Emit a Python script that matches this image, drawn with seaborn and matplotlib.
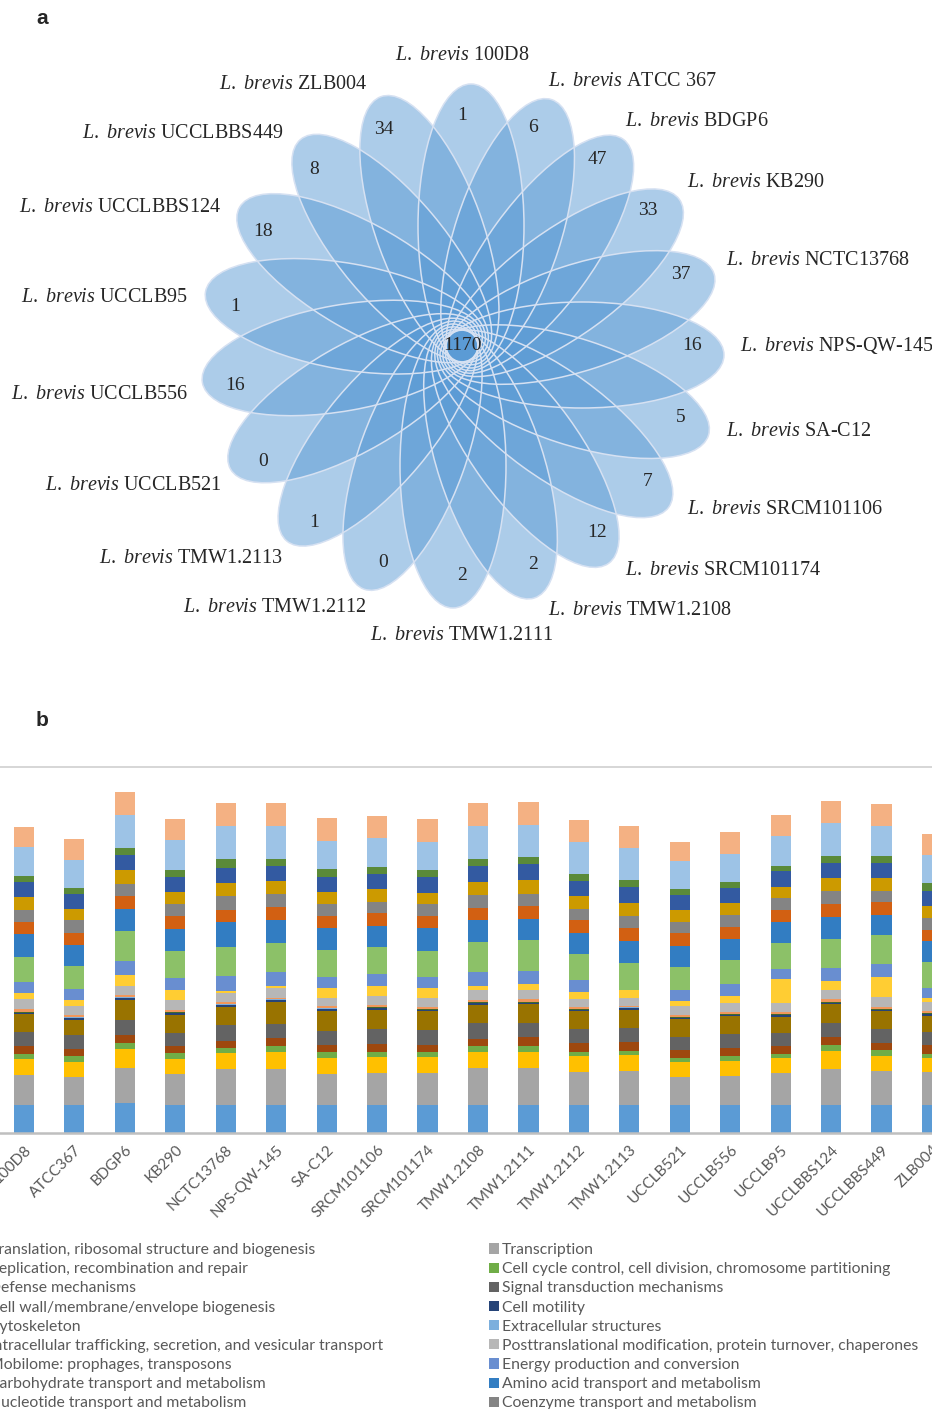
import numpy as np
import pandas as pd
import matplotlib
matplotlib.use("Agg")
import matplotlib.pyplot as plt
import seaborn as sns
from matplotlib.patches import Ellipse, Patch

# ---------------- panel a: flower diagram ----------------
venn_strains = ["100D8", "ATCC 367", "BDGP6", "KB290", "NCTC13768", "NPS-QW-145",
                "SA-C12", "SRCM101106", "SRCM101174", "TMW1.2108", "TMW1.2111",
                "TMW1.2112", "TMW1.2113", "UCCLB521", "UCCLB556", "UCCLB95",
                "UCCLBBS124", "UCCLBBS449", "ZLB004"]
unique_genes = [1, 6, 47, 33, 37, 16, 5, 7, 12, 2, 2, 0, 1, 0, 16, 1, 18, 8, 34]
core_genes = 1170

# ---------------- panel b: COG stacked bars ----------------
bar_strains = ["100D8", "ATCC367", "BDGP6", "KB290", "NCTC13768", "NPS-QW-145",
               "SA-C12", "SRCM101106", "SRCM101174", "TMW1.2108", "TMW1.2111",
               "TMW1.2112", "TMW1.2113", "UCCLB521", "UCCLB556", "UCCLB95",
               "UCCLBBS124", "UCCLBBS449", "ZLB004"]

cog_names = [
    "Translation, ribosomal structure and biogenesis",
    "Transcription",
    "Replication, recombination and repair",
    "Cell cycle control, cell division, chromosome partitioning",
    "Defense mechanisms",
    "Signal transduction mechanisms",
    "Cell wall/membrane/envelope biogenesis",
    "Cell motility",
    "Cytoskeleton",
    "Extracellular structures",
    "Intracellular trafficking, secretion, and vesicular transport",
    "Posttranslational modification, protein turnover, chaperones",
    "Mobilome: prophages, transposons",
    "Energy production and conversion",
    "Carbohydrate transport and metabolism",
    "Amino acid transport and metabolism",
    "Nucleotide transport and metabolism",
    "Coenzyme transport and metabolism",
    "Lipid transport and metabolism",
    "Inorganic ion transport and metabolism",
    "Secondary metabolites biosynthesis, transport and catabolism",
    "General function prediction only",
    "Function unknown",
]
cog_colors = ["#5B9BD5", "#A5A5A5", "#FFC000", "#70AD47", "#9E480E", "#636363",
              "#997300", "#264478", "#43682B", "#7CAFDD", "#F1975A", "#B7B7B7",
              "#FFCD33", "#698ED0", "#8CC168", "#327DC2", "#D26012", "#848484",
              "#CC9A00", "#335AA1", "#5A8A39", "#9DC3E6", "#F4B183"]

cog_J = [142, 142, 148, 142, 142, 142, 142, 142, 142, 142, 142, 138, 138, 142, 142, 138, 142, 138, 142]
cog_K = [148, 140, 178, 153, 180, 180, 152, 158, 158, 185, 185, 168, 170, 140, 145, 162, 180, 170, 162]
cog_L = [80, 75, 93, 77, 77, 85, 82, 80, 80, 80, 80, 78, 80, 72, 75, 75, 90, 77, 73]
cog_D = [27, 27, 32, 27, 27, 27, 27, 27, 27, 27, 27, 22, 23, 20, 22, 22, 27, 32, 20]
cog_V = [37, 37, 40, 35, 35, 40, 38, 40, 35, 38, 45, 45, 45, 43, 40, 37, 42, 35, 42]
cog_T = [72, 67, 72, 68, 77, 72, 70, 72, 72, 77, 72, 67, 67, 65, 73, 68, 70, 67, 68]
cog_M = [87, 75, 103, 90, 92, 107, 97, 98, 95, 93, 92, 90, 93, 87, 87, 80, 92, 90, 80]
cog_N = [8, 10, 8, 8, 8, 10, 10, 8, 8, 8, 8, 8, 8, 8, 8, 8, 8, 8, 8]
cog_Z = [3, 3, 3, 3, 3, 3, 3, 3, 3, 3, 3, 3, 3, 3, 3, 3, 3, 3, 3]
cog_W = [2, 2, 2, 2, 2, 2, 2, 2, 2, 2, 2, 2, 2, 2, 2, 2, 2, 2, 2]
cog_U = [12, 12, 10, 12, 10, 8, 10, 8, 8, 12, 12, 10, 4, 10, 10, 10, 12, 10, 10]
cog_O = [50, 43, 47, 47, 47, 47, 43, 45, 45, 48, 45, 38, 42, 42, 45, 43, 45, 48, 43]
cog_X = [32, 32, 53, 52, 8, 12, 48, 53, 48, 22, 30, 37, 40, 28, 35, 120, 45, 98, 22]
cog_C = [53, 53, 72, 58, 75, 68, 58, 60, 58, 67, 67, 57, 2, 53, 60, 53, 65, 68, 48]
cog_G = [128, 117, 147, 135, 148, 147, 135, 133, 130, 153, 153, 130, 135, 117, 120, 130, 148, 142, 130]
cog_E = [112, 107, 112, 112, 122, 115, 107, 108, 112, 107, 108, 105, 110, 102, 103, 103, 108, 103, 107]
cog_F = [63, 60, 65, 62, 62, 65, 63, 62, 63, 63, 62, 67, 63, 65, 62, 63, 67, 62, 57]
cog_H = [57, 62, 62, 60, 68, 63, 58, 58, 58, 63, 63, 57, 58, 57, 60, 58, 63, 58, 57]
cog_I = [65, 58, 68, 62, 67, 65, 62, 63, 57, 67, 67, 63, 67, 57, 58, 57, 65, 63, 63]
cog_P = [75, 72, 75, 77, 77, 75, 75, 75, 78, 80, 80, 77, 78, 75, 77, 77, 78, 77, 72]
cog_Q = [32, 32, 37, 35, 43, 37, 37, 35, 35, 35, 35, 35, 38, 30, 30, 27, 35, 35, 40]
cog_R = [145, 138, 162, 147, 167, 167, 143, 145, 143, 162, 163, 157, 157, 140, 140, 148, 162, 148, 143]
cog_S = [102, 107, 115, 108, 112, 112, 112, 112, 112, 117, 115, 112, 112, 98, 108, 105, 113, 112, 105]

cog_values = [cog_J, cog_K, cog_L, cog_D, cog_V, cog_T, cog_M, cog_N, cog_Z, cog_W,
              cog_U, cog_O, cog_X, cog_C, cog_G, cog_E, cog_F, cog_H, cog_I, cog_P,
              cog_Q, cog_R, cog_S]

sns.set_style("white")
plt.rcParams["font.family"] = ["Liberation Serif", "DejaVu Serif"]
plt.rcParams["mathtext.fontset"] = "custom"
plt.rcParams["mathtext.it"] = "Liberation Serif:italic"
plt.rcParams["mathtext.rm"] = "Liberation Serif"

W, H = 932, 1409
fig = plt.figure(figsize=(W / 100, H / 100), dpi=100)


def fx(px):
    return px / W


def fy(py):
    return 1 - py / H


# ---- panel a
ax_a = fig.add_axes([0, fy(700), 1, 700 / H])
ax_a.set_xlim(0, W)
ax_a.set_ylim(700, 0)
ax_a.axis("off")

cx, cy = 462, 346
n = len(venn_strains)
# first strain on top; the right half holds one more petal than the left half
n_right = n // 2 + 1
idx = np.arange(n)
angles = np.where(idx <= n_right,
                  90 - idx * 180 / n_right,
                  -90 - (idx - n_right) * 180 / (n - n_right))
petal_len, petal_wid, petal_off, petal_shift = 284, 106, 120, 9


def petal_centre(ang):
    t = np.deg2rad(ang)
    # small sideways shift gives the pinwheel look of the original
    x = cx + petal_off * np.cos(t) + petal_shift * np.sin(t)
    y = cy - petal_off * np.sin(t) + petal_shift * np.cos(t)
    return x, y


for ang in angles:
    ax_a.add_patch(Ellipse(petal_centre(ang), petal_len, petal_wid, angle=-ang,
                           facecolor="#5B9BD5", alpha=0.5, edgecolor="none"))
for ang in angles:
    ax_a.add_patch(Ellipse(petal_centre(ang), petal_len, petal_wid, angle=-ang,
                           facecolor="none", edgecolor="#D6E1F2", lw=1.1))

for ang, name, val in zip(angles, venn_strains, unique_genes):
    t = np.deg2rad(ang)
    c, s = np.cos(t), np.sin(t)
    ax_a.text(cx + 230 * c, cy - 230 * s, str(val), ha="center", va="center", fontsize=14)
    if c > 0.15:
        ha, r = "left", 278
    elif c < -0.15:
        ha, r = "right", 278
    else:
        ha, r = "center", 290
    ax_a.text(cx + r * c, cy - r * s, r"$\mathit{L.\ brevis}$ " + name,
              ha=ha, va="center", fontsize=14.5)

ax_a.text(cx, cy, str(core_genes), ha="center", va="center", fontsize=14)

fig.text(fx(42), fy(18), "a", ha="center", va="center", fontsize=15,
         fontweight="bold", family="Liberation Sans")
fig.text(fx(42), fy(720), "b", ha="center", va="center", fontsize=15,
         fontweight="bold", family="Liberation Sans")

# ---- panel b
ax_b = fig.add_axes([0, fy(1133), 1, (1133 - 767) / H])
table = pd.DataFrame(dict(zip(cog_names, cog_values)), index=bar_strains)
tops = table.cumsum(axis=1)

# draw cumulative totals from the top segment down so each layer covers the previous
for name, color in reversed(list(zip(cog_names, cog_colors))):
    sns.barplot(x=bar_strains, y=tops[name].values, color=color, width=0.4,
                saturation=1, linewidth=0, errorbar=None, ax=ax_b)

ax_b.set_ylim(0, 1830)
ax_b.set_xlim(-0.475, 17.98)
ax_b.set_yticks([])
ax_b.set_xlabel("")
ax_b.set_ylabel("")
ax_b.set_xticks(range(len(bar_strains)))
ax_b.set_xticklabels(bar_strains, rotation=45, ha="right", va="top",
                     rotation_mode="anchor", color="#595959", fontsize=11,
                     family="Lato")
ax_b.tick_params(axis="x", length=0, pad=7)
for side in ["left", "right"]:
    ax_b.spines[side].set_visible(False)
ax_b.spines["top"].set_color("#D0D0D0")
ax_b.spines["top"].set_linewidth(1.2)
ax_b.spines["bottom"].set_color("#BFBFBF")
ax_b.spines["bottom"].set_linewidth(1.8)

# legend: two columns, filled row by row
handles = [Patch(facecolor=c, edgecolor="none") for c in cog_colors]
left_idx = list(range(0, len(cog_names), 2))
right_idx = list(range(1, len(cog_names), 2))
leg_kw = dict(loc="upper left", frameon=False, handlelength=0.62,
              handleheight=0.62, handletextpad=0.2, borderpad=0, borderaxespad=0,
              labelspacing=0.33, labelcolor="#595959",
              prop={"family": "Lato", "size": 11.3})
leg1 = fig.legend([handles[i] for i in left_idx], [cog_names[i] for i in left_idx],
                  bbox_to_anchor=(fx(-24), fy(1243)), **leg_kw)
leg2 = fig.legend([handles[i] for i in right_idx], [cog_names[i] for i in right_idx],
                  bbox_to_anchor=(fx(489), fy(1243)), **leg_kw)

fig.savefig("out.png", dpi=100)
